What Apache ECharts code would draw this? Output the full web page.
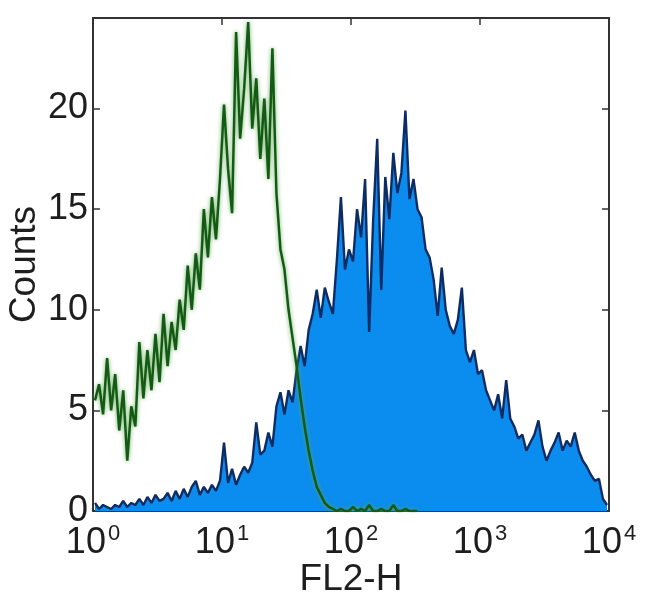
<!DOCTYPE html>
<html>
<head>
<meta charset="utf-8">
<script src="https://cdn.jsdelivr.net/npm/echarts@6/dist/echarts.min.js"></script>
<style>html,body{margin:0;padding:0;background:#fff}#c{width:650px;height:615px}</style>
</head>
<body>
<div id="c"></div>
<script>
// Histogram channels: 32 bins per decade over 10^0 .. 10^4 (bin centres in log10 units)
const binsPerDecade = 32;
const xTickExponents = [0, 1, 2, 3, 4];
const yTicks = [0, 5, 10, 15, 20];
const xLabel = 'FL2-H';
const yLabel = 'Counts';

// Green (control) histogram counts, bins 0..80
const greenCounts = [
  5.5, 6.3, 4.8, 7.6, 5.0, 6.8, 4.0, 6.0, 2.5, 5.2,
  4.2, 8.4, 5.6, 8.0, 6.0, 8.8, 6.4, 9.8, 7.2, 9.4,
  8.0, 10.5, 9.0, 12.2, 10.0, 12.8, 11.0, 15.0, 12.6, 15.6,
  13.5, 16.5, 20.2, 17.0, 14.8, 23.8, 18.5, 21.0, 24.3, 19.0,
  21.5, 17.5, 20.5, 16.5, 23.0, 15.8, 13.0, 12.0, 10.0, 8.6,
  7.2, 5.6, 4.2, 3.0, 2.0, 1.2, 0.8, 0.4, 0.2, 0.1,
  0.0, 0.1, 0.0, 0.0, 0.2, 0.0, 0.1, 0.0, 0.3, 0.0,
  0.0, 0.1, 0.0, 0.0, 0.3, 0.0, 0.0, 0.1, 0.0, 0.0, 0.0
];

// Blue (stained) histogram counts, bins 0..127
const blueCounts = [
  0.4, 0.1, 0.3, 0.2, 0.1, 0.3, 0.2, 0.5, 0.2, 0.4,
  0.3, 0.6, 0.3, 0.7, 0.4, 0.8, 0.5, 0.6, 0.9, 0.5,
  1.0, 0.6, 1.1, 0.7, 1.2, 1.5, 0.8, 1.2, 0.9, 1.3,
  1.0, 1.5, 3.4, 1.4, 2.1, 1.3, 1.8, 2.2, 1.9, 2.4,
  4.4, 2.8, 3.0, 3.9, 3.2, 5.2, 5.9, 4.8, 6.0, 5.4,
  7.0, 8.2, 7.2, 9.0, 9.8, 11.0, 9.6, 11.1, 10.4, 9.8,
  12.5, 15.6, 12.0, 13.0, 12.4, 15.0, 13.6, 16.5, 8.9, 14.5,
  18.5, 11.0, 16.6, 14.5, 17.8, 15.8, 16.8, 19.9, 15.5, 16.5,
  15.0, 14.6, 13.0, 12.6, 11.5, 9.7, 12.1, 10.0, 9.2, 8.8,
  9.5, 11.1, 8.0, 7.4, 8.0, 6.8, 7.0, 6.0, 5.5, 5.0,
  5.8, 4.6, 6.5, 4.6, 4.2, 3.6, 3.8, 3.0, 3.4, 3.8,
  4.5, 3.2, 2.5, 3.0, 3.4, 3.9, 3.0, 3.5, 3.2, 3.9,
  3.0, 2.5, 2.2, 1.8, 1.5, 1.6, 0.6, 0.3
];

const toPoints = arr => arr.map((v, i) => [(i + 0.5) / binsPerDecade, v]);

const FONT = '"Liberation Sans", Arial, Helvetica, sans-serif';
const TXT = '#1e1e1e';
const AX = '#333';
const lineAx = {show: true, onZero: false, lineStyle: {color: AX, width: 2}};
const tickAx = {show: true, inside: true, length: 7, lineStyle: {color: AX, width: 1.5}};

const chart = echarts.init(document.getElementById('c'), null, {renderer: 'canvas'});
chart.setOption({
  animation: false,
  backgroundColor: '#fff',
  grid: {left: 93, right: 41, top: 18, bottom: 104, containLabel: false, outerBoundsMode: 'none'},
  xAxis: [{
    type: 'value', min: xTickExponents[0], max: xTickExponents[xTickExponents.length - 1], interval: 1,
    position: 'bottom',
    name: xLabel, nameLocation: 'middle', nameGap: 50, nameMoveOverlap: false,
    nameTextStyle: {fontFamily: FONT, fontSize: 37, color: TXT},
    axisLine: lineAx, axisTick: tickAx,
    splitLine: {show: false},
    axisLabel: {
      margin: 12,
      formatter: v => '{b|10}{s|' + v + '}',
      rich: {
        b: {fontFamily: FONT, fontSize: 36, color: TXT, lineHeight: 40},
        s: {fontFamily: FONT, fontSize: 22, color: TXT, verticalAlign: 'top', lineHeight: 40, padding: [0, 0, 18, 2]}
      }
    }
  }, {
    type: 'value', min: 0, max: 4, interval: 1, position: 'top',
    axisLine: lineAx, axisTick: tickAx,
    axisLabel: {show: false}, splitLine: {show: false}
  }],
  yAxis: [{
    type: 'value', min: 0, max: 24.5, interval: 5, position: 'left',
    name: yLabel, nameLocation: 'middle', nameGap: 50, nameRotate: 90, nameMoveOverlap: false,
    nameTextStyle: {fontFamily: FONT, fontSize: 37, color: TXT},
    axisLine: lineAx, axisTick: tickAx,
    splitLine: {show: false},
    axisLabel: {
      margin: 5, fontFamily: FONT, fontSize: 36, color: TXT,
      formatter: v => (yTicks.indexOf(v) >= 0 ? String(v) : '')
    }
  }, {
    type: 'value', min: 0, max: 24.5, interval: 5, position: 'right',
    axisLine: lineAx, axisTick: tickAx,
    axisLabel: {show: false}, splitLine: {show: false}
  }],
  series: [{
    name: 'stained', type: 'line', xAxisIndex: 0, yAxisIndex: 0,
    data: toPoints(blueCounts), showSymbol: false, symbol: 'none',
    lineStyle: {color: '#0c2c66', width: 2.4},
    areaStyle: {color: '#0b8cef', opacity: 1},
    z: 2
  }, {
    name: 'control', type: 'line', xAxisIndex: 0, yAxisIndex: 0,
    data: toPoints(greenCounts), showSymbol: false, symbol: 'none',
    lineStyle: {color: '#145a14', width: 2.5, shadowColor: 'rgba(90,170,80,0.9)', shadowBlur: 4},
    z: 3
  }]
});
</script>
</body>
</html>
